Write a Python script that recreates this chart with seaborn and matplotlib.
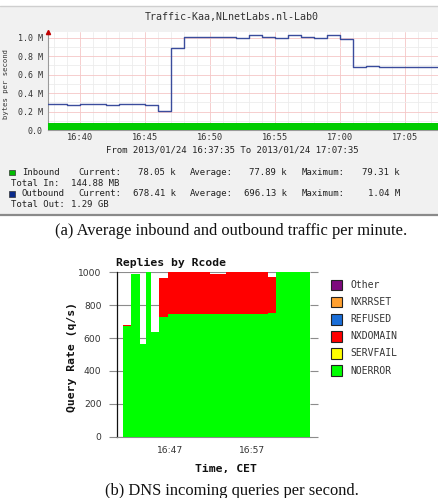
import numpy as np
import pandas as pd
import matplotlib
matplotlib.use("Agg")
import matplotlib.pyplot as plt
import seaborn as sns
from matplotlib.patches import Rectangle
from matplotlib.lines import Line2D

# ------------------------------------------------------------------ data
# (a) traffic, x in minutes after 16:00, y in M bytes/s
traffic_minutes = list(range(37, 69))
outbound_M = [0.28, 0.28, 0.27, 0.28, 0.28, 0.27, 0.28, 0.28, 0.27, 0.21,
              0.89, 1.01, 1.01, 1.01, 1.01, 1.00, 1.03, 1.01, 1.00, 1.03,
              1.01, 1.00, 1.03, 0.99, 0.68, 0.69, 0.68, 0.68, 0.68, 0.68,
              0.68, 0.68]
inbound_M = [0.08, 0.08, 0.08, 0.08, 0.08, 0.08, 0.08, 0.08, 0.08, 0.08,
             0.08, 0.08, 0.08, 0.08, 0.08, 0.08, 0.08, 0.08, 0.08, 0.08,
             0.08, 0.08, 0.08, 0.08, 0.08, 0.08, 0.08, 0.08, 0.08, 0.08,
             0.08, 0.08]
window_start_min = 37 + 35 / 60   # 16:37:35
window_end_min = 67 + 35 / 60     # 17:07:35
traffic_ticks = [40, 45, 50, 55, 60, 65]
traffic_tick_labels = ["16:40", "16:45", "16:50", "16:55", "17:00", "17:05"]
traffic_yticks = [0.0, 0.2, 0.4, 0.6, 0.8, 1.0]
traffic_ytick_labels = ["0.0", "0.2 M", "0.4 M", "0.6 M", "0.8 M", "1.0 M"]
traffic_title = "Traffic-Kaa,NLnetLabs.nl-Lab0"
traffic_period = "From 2013/01/24 16:37:35 To 2013/01/24 17:07:35"
stats_inbound = ["Inbound", "Current:", "78.05 k", "Average:", "77.89 k", "Maximum:", "79.31 k"]
stats_outbound = ["Outbound", "Current:", "678.41 k", "Average:", "696.13 k", "Maximum:", "1.04 M"]
total_in = ["Total In:", "144.88 MB"]
total_out = ["Total Out:", "1.29 GB"]

# (b) DNS replies by rcode, bins in minutes after 16:00, q/s
rcode_bin_edges = [41.27, 42.25, 43.38, 44.08, 44.72, 45.70, 46.83,
                   51.92, 53.87, 59.03, 59.98, 64.11]
noerror_qps = [673, 988, 564, 1000, 639, 726, 746, 746, 746, 750, 1000]
nxdomain_qps = [7, 0, 0, 0, 0, 241, 254, 244, 254, 223, 0]
rcode_names = ["Other", "NXRRSET", "REFUSED", "NXDOMAIN", "SERVFAIL", "NOERROR"]
rcode_colors = ["#7d0a7d", "#ffa030", "#1a6ed8", "#ff0000", "#ffff00", "#00ff00"]
dns_xlim = [40.54, 64.11]
dns_ticks = [47, 57]
dns_tick_labels = ["16:47", "16:57"]
dns_yticks = [0, 200, 400, 600, 800, 1000]

caption_a = "(a) Average inbound and outbound traffic per minute."
caption_b = "(b) DNS incoming queries per second."

# ------------------------------------------------------------------ setup
sns.set_style("white")
plt.rcParams["font.family"] = ["DejaVu Sans"]
MONO = "DejaVu Sans Mono"
SERIF = "Liberation Serif"

W, H = 439, 498
fig = plt.figure(figsize=(W / 100, H / 100), dpi=100)
fig.patch.set_facecolor("white")


def fx(px):
    return px / W


def fy(py):
    return 1 - py / H


# gray panel behind (a)
fig.patches.append(Rectangle((0, fy(215)), 1, (215 - 7) / H, transform=fig.transFigure,
                             facecolor="#f1f1f1", edgecolor="none", zorder=-5))
fig.add_artist(Line2D([0, 1], [fy(6.5), fy(6.5)], color="#cfcfcf", lw=1.0))
fig.add_artist(Line2D([0, 1], [fy(215), fy(215)], color="#8a8a8a", lw=1.6))

# ------------------------------------------------------------------ (a)
ax1 = fig.add_axes([fx(48.3), fy(130), (439 - 48.3) / W, (130 - 31.7) / H])
ax1.set_facecolor("white")
ax1.set_xlim(window_start_min, window_end_min)
ax1.set_ylim(0, 1.065)
ax1.set_xticks(list(range(38, 68)), minor=True)
ax1.set_yticks([0.1, 0.3, 0.5, 0.7, 0.9], minor=True)
ax1.set_xticks(traffic_ticks)
ax1.set_xticklabels(traffic_tick_labels, fontfamily=MONO, fontsize=6.2, color="#333333")
ax1.set_yticks(traffic_yticks)
ax1.set_yticklabels(traffic_ytick_labels, fontfamily=MONO, fontsize=6.0, color="#333333")
ax1.tick_params(which="both", length=0)
ax1.tick_params(axis="x", pad=2.5)
ax1.tick_params(axis="y", pad=4)
ax1.grid(which="minor", color="#ececec", lw=0.6)
ax1.grid(which="major", color="#f5c6c6", lw=0.6)
ax1.set_axisbelow(True)

ax1.fill_between(traffic_minutes, 0, inbound_M, step="post", color="#00cc00", lw=0, zorder=3)
traffic_df = pd.DataFrame({"minute": traffic_minutes, "outbound": outbound_M})
sns.lineplot(data=traffic_df, x="minute", y="outbound", drawstyle="steps-post",
             color="#3a4c9c", lw=1.0, ax=ax1, zorder=4)
ax1.set_xlabel("")
ax1.set_ylabel("")
for s in ["top", "right"]:
    ax1.spines[s].set_visible(False)
ax1.spines["left"].set_color("#9a9a9a")
ax1.spines["left"].set_linewidth(0.8)
ax1.spines["bottom"].set_color("#9a9a9a")
ax1.spines["bottom"].set_linewidth(0.8)
ax1.plot([0], [1.0], marker="^", color="#c00000", markersize=3, transform=ax1.transAxes,
         clip_on=False, zorder=6)

fig.text(fx(232), fy(17), traffic_title, ha="center", va="center",
         fontfamily=MONO, fontsize=7.2, color="#333333")
fig.text(fx(6), fy(84), "bytes per second", ha="center", va="center", rotation=90,
         fontfamily=MONO, fontsize=5.2, color="#333333")
fig.text(fx(232), fy(150), traffic_period, ha="center", va="center",
         fontfamily=MONO, fontsize=6.5, color="#222222")

col_x = [22, 78, 176, 190, 287, 302, 400]
col_ha = ["left", "left", "right", "left", "right", "left", "right"]
for row_y, items in [(172.3, stats_inbound), (194, stats_outbound)]:
    for x, ha, t in zip(col_x, col_ha, items):
        fig.text(fx(x), fy(row_y), t, ha=ha, va="center", fontfamily=MONO,
                 fontsize=6.5, color="#222222")
for row_y, items in [(183.3, total_in), (204.7, total_out)]:
    fig.text(fx(11), fy(row_y), items[0], ha="left", va="center", fontfamily=MONO,
             fontsize=6.5, color="#222222")
    fig.text(fx(71.5), fy(row_y), items[1], ha="left", va="center", fontfamily=MONO,
             fontsize=6.5, color="#222222")
for row_y, col in [(172.3, "#00bb00"), (194, "#0a2a8a")]:
    fig.patches.append(Rectangle((fx(9.3), fy(row_y + 2.8)), 5.6 / W, 5.6 / H,
                                 transform=fig.transFigure, facecolor=col,
                                 edgecolor="#333333", lw=0.5))

fig.text(fx(231), fy(231), caption_a, ha="center", va="center",
         fontfamily=SERIF, fontsize=11.9, color="#111111")

# ------------------------------------------------------------------ (b)
ax2 = fig.add_axes([fx(116.7), fy(436.7), (310 - 116.7) / W, (436.7 - 272.3) / H])
centers = [(a + b) / 2 for a, b in zip(rcode_bin_edges[:-1], rcode_bin_edges[1:])]
rc_df = pd.DataFrame({
    "minute": centers + centers,
    "rcode": ["NOERROR"] * len(centers) + ["NXDOMAIN"] * len(centers),
    "rate": noerror_qps + nxdomain_qps,
})
pal = dict(zip(rcode_names, rcode_colors))
sns.histplot(data=rc_df, x="minute", weights="rate", hue="rcode",
             hue_order=["NXDOMAIN", "NOERROR"], bins=rcode_bin_edges,
             multiple="stack", element="step", fill=True, alpha=1, linewidth=0,
             palette=pal, legend=False, ax=ax2, zorder=3)
ax2.set_xlim(*dns_xlim)
ax2.set_ylim(0, 1000)
ax2.set_yticks(dns_yticks)
ax2.set_yticklabels([str(v) for v in dns_yticks], fontsize=6.6, color="#333333")
ax2.set_xticks(dns_ticks)
ax2.set_xticklabels(dns_tick_labels, fontsize=6.6, color="#333333")
ax2.tick_params(axis="y", which="both", left=True, right=True, direction="out",
                length=6, width=0.8, color="#8c8c8c", pad=5)
ax2.tick_params(axis="x", direction="out", length=3.5, width=0.8, color="#222222", pad=3)
ax2.grid(axis="y", color="#8c8c8c", lw=0.8)
ax2.set_axisbelow(True)
ax2.set_xlabel("")
ax2.set_ylabel("")
for s in ["top", "right"]:
    ax2.spines[s].set_visible(False)
ax2.spines["left"].set_color("#111111")
ax2.spines["left"].set_linewidth(0.9)
ax2.spines["bottom"].set_color("#8c8c8c")
ax2.spines["bottom"].set_linewidth(0.8)

fig.text(fx(116), fy(263), "Replies by Rcode", ha="left", va="center",
         fontfamily=MONO, fontweight="bold", fontsize=8.2, color="#111111")
fig.text(fx(72), fy(357), "Query Rate (q/s)", ha="center", va="center", rotation=90,
         fontfamily=MONO, fontweight="bold", fontsize=8.2, color="#111111")
fig.text(fx(226), fy(469), "Time, CET", ha="center", va="center",
         fontfamily=MONO, fontweight="bold", fontsize=8.2, color="#111111")

for i, (name, col) in enumerate(zip(rcode_names, rcode_colors)):
    cy = 285 + i * 17.1
    fig.patches.append(Rectangle((fx(331), fy(cy + 5.3)), 10.6 / W, 10.6 / H,
                                 transform=fig.transFigure, facecolor=col,
                                 edgecolor="#222222", lw=0.8))
    fig.text(fx(350.7), fy(cy), name, ha="left", va="center", fontfamily=MONO,
             fontsize=7.0, color="#333333")

fig.text(fx(231.5), fy(494.5), caption_b, ha="center", va="baseline",
         fontfamily=SERIF, fontsize=11.9, color="#111111")

fig.savefig("out.png", dpi=100)
